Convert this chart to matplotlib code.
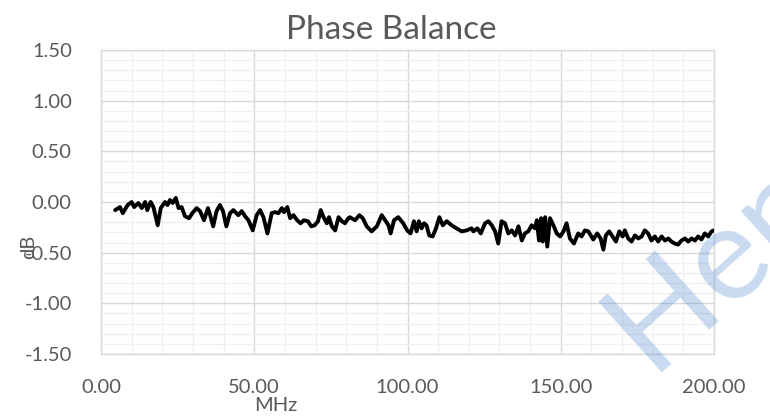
import numpy as np
import matplotlib
matplotlib.use("Agg")
import matplotlib.pyplot as plt
from matplotlib.ticker import MultipleLocator, FormatStrFormatter

plt.rcParams['font.family'] = ['Lato', 'DejaVu Sans']

# frequency (MHz) and phase balance (dB)
freq = [4.6, 6.2, 7.1, 8.7, 10.0, 10.8, 12.2, 13.3, 14.4, 15.1, 16.2, 17.1, 18.5, 19.5,
        20.9, 21.7, 22.5, 23.4, 24.4, 25.3, 26.3, 27.4, 28.7, 29.8, 31.2, 32.3, 33.6,
        34.9, 35.7, 36.6, 37.7, 38.8, 39.8, 40.9, 42.1, 43.2, 44.8, 45.9, 47.0, 48.1,
        49.5, 50.8, 51.9, 53.0, 54.3, 55.7, 56.8, 57.9, 59.0, 59.7, 60.8, 61.7, 62.8,
        64.0, 65.1, 66.2, 67.5, 68.6, 69.7, 70.8, 71.7, 72.6, 73.7, 74.4, 75.3, 76.4,
        77.5, 78.6, 79.6, 80.7, 81.2, 82.9, 84.3, 85.4, 86.7, 88.3, 90.0, 91.6, 92.7,
        93.8, 94.5, 95.6, 97.0, 98.6, 99.9, 101.0, 102.1, 103.0, 103.7, 104.6, 105.4,
        106.2, 107.1, 108.2, 109.3, 110.4, 111.5, 112.8, 114.4, 116.0, 117.7, 119.3,
        120.9, 121.5, 122.8, 123.9, 125.3, 126.4, 127.5, 128.6, 129.6, 130.7, 131.8,
        132.9, 134.0, 135.1, 136.2, 137.3, 138.3, 139.4, 140.5, 141.6, 142.2, 142.9,
        143.6, 144.1, 144.9, 145.6, 146.5, 147.6, 148.7, 149.8, 150.9, 151.9, 153.0,
        154.3, 155.7, 156.8, 157.9, 159.0, 160.6, 161.9, 163.0, 163.9, 164.7, 165.8,
        166.9, 168.0, 169.1, 170.2, 170.9, 172.0, 173.1, 174.2, 175.3, 176.4, 177.4,
        178.5, 179.6, 180.7, 181.8, 182.9, 184.0, 185.1, 186.1, 187.2, 188.3, 189.4,
        190.5, 191.6, 192.7, 193.8, 194.8, 195.9, 197.0, 198.1, 199.2, 200.0]
balance = [-0.08, -0.05, -0.11, -0.03, 0.00, -0.05, -0.01, -0.06, 0.00, -0.08, 0.00, -0.05,
           -0.23, -0.06, 0.00, -0.03, 0.02, -0.01, 0.04, -0.06, -0.05, -0.14, -0.16, -0.11,
           -0.06, -0.09, -0.18, -0.06, -0.14, -0.24, -0.09, -0.03, -0.09, -0.24, -0.11,
           -0.08, -0.13, -0.09, -0.14, -0.18, -0.28, -0.13, -0.08, -0.15, -0.31, -0.11,
           -0.10, -0.11, -0.06, -0.10, -0.05, -0.16, -0.13, -0.18, -0.21, -0.18, -0.19,
           -0.24, -0.23, -0.19, -0.08, -0.15, -0.21, -0.15, -0.24, -0.28, -0.15, -0.19,
           -0.21, -0.16, -0.15, -0.18, -0.13, -0.16, -0.24, -0.29, -0.24, -0.13, -0.18,
           -0.23, -0.31, -0.18, -0.15, -0.21, -0.28, -0.31, -0.19, -0.29, -0.19, -0.26,
           -0.21, -0.23, -0.33, -0.34, -0.26, -0.15, -0.23, -0.19, -0.23, -0.26, -0.29,
           -0.28, -0.26, -0.29, -0.26, -0.31, -0.21, -0.19, -0.23, -0.29, -0.41, -0.19,
           -0.21, -0.31, -0.28, -0.33, -0.24, -0.38, -0.31, -0.29, -0.23, -0.26, -0.18,
           -0.38, -0.16, -0.39, -0.15, -0.44, -0.16, -0.23, -0.31, -0.34, -0.29, -0.21,
           -0.36, -0.41, -0.31, -0.34, -0.28, -0.29, -0.37, -0.31, -0.36, -0.47, -0.33,
           -0.29, -0.34, -0.39, -0.29, -0.34, -0.28, -0.36, -0.39, -0.33, -0.36, -0.34,
           -0.28, -0.31, -0.38, -0.34, -0.39, -0.34, -0.38, -0.36, -0.39, -0.41, -0.42,
           -0.38, -0.36, -0.39, -0.36, -0.38, -0.34, -0.37, -0.31, -0.34, -0.29, -0.28]

text_col = '#595959'

fig = plt.figure(figsize=(7.7, 4.2), dpi=100)
ax = fig.add_axes([101/770, 66/420, 613/770, 304/420])

ax.plot(freq, balance, color='black', lw=2.8, solid_joinstyle='round',
        solid_capstyle='round', zorder=3)

ax.set_xlim(0, 200)
ax.set_ylim(-1.5, 1.5)
ax.xaxis.set_major_locator(MultipleLocator(50))
ax.xaxis.set_minor_locator(MultipleLocator(10))
ax.yaxis.set_major_locator(MultipleLocator(0.5))
ax.yaxis.set_minor_locator(MultipleLocator(0.1))
ax.xaxis.set_major_formatter(FormatStrFormatter('%.2f'))
ax.yaxis.set_major_formatter(FormatStrFormatter('%.2f'))

ax.grid(which='major', color='#d9d9d9', lw=1.0, zorder=0)
ax.grid(which='minor', color='#f0f0f0', lw=1.0, zorder=0)
ax.set_axisbelow(True)
for s in ax.spines.values():
    s.set_color('#d9d9d9')
    s.set_linewidth(1.0)

ax.tick_params(which='both', length=0, labelsize=14.5, labelcolor=text_col)
ax.tick_params(axis='x', pad=18)
ax.tick_params(axis='y', pad=21)

ax.set_title('Phase Balance', fontsize=24, color=text_col, pad=8)
ax.title.set_x((391 - 101) / 613)
ax.set_xlabel('MHz', fontsize=14.5, color=text_col)
ax.xaxis.set_label_coords(0.285, -0.141)
ax.set_ylabel('dB', fontsize=14.5, color=text_col)
ax.yaxis.set_label_coords(-0.104, 0.352)

# watermark
fig.text(650/770, 1 - 372/420, 'Hen', fontsize=95, color='#4a86d0', alpha=0.3,
         rotation=42, rotation_mode='anchor', ha='left', va='baseline', zorder=10)

fig.savefig('out.png', dpi=100)
